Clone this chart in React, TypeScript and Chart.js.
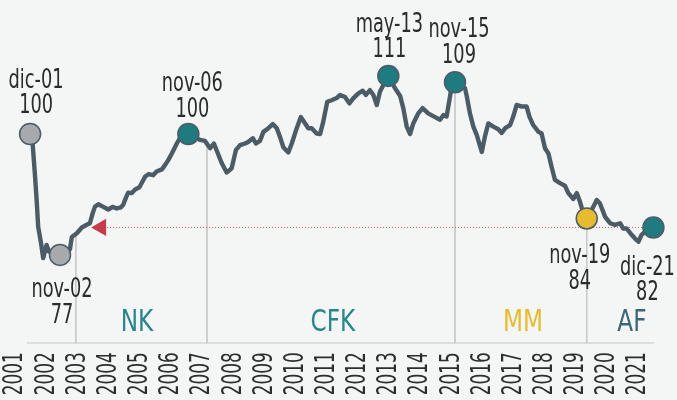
import React, { useEffect, useRef } from 'react';
import { Chart, registerables } from 'chart.js';

Chart.register(...registerables);

// ---------- data ----------
// decimal year of each sampled point of the index line
const LINE_DATES = [
  2001.92, 2002.00, 2002.08, 2002.13, 2002.18, 2002.27, 2002.34, 2002.45, 2002.53, 2002.88,
  2003.10, 2003.20, 2003.26, 2003.42, 2003.58, 2003.74, 2003.84, 2003.93, 2004.00, 2004.11,
  2004.27, 2004.43, 2004.57, 2004.70, 2004.83, 2004.91, 2005.00, 2005.07, 2005.18, 2005.29,
  2005.43, 2005.61, 2005.72, 2005.87, 2005.98, 2006.15, 2006.25, 2006.36, 2006.47, 2006.63,
  2006.73, 2007.00, 2007.37, 2007.53, 2007.70, 2007.82, 2007.93, 2008.07, 2008.23, 2008.39,
  2008.53, 2008.66, 2008.82, 2008.92, 2009.07, 2009.17, 2009.30, 2009.41, 2009.57, 2009.71,
  2009.84, 2009.94, 2010.05, 2010.21, 2010.32, 2010.48, 2010.61, 2010.75, 2010.85, 2010.96,
  2011.12, 2011.23, 2011.33, 2011.46, 2011.60, 2011.76, 2011.87, 2012.03, 2012.17, 2012.30,
  2012.46, 2012.60, 2012.70, 2012.83, 2012.94, 2013.05, 2013.15, 2013.26, 2013.42, 2013.63,
  2013.80, 2013.90, 2014.01, 2014.12, 2014.22, 2014.38, 2014.52, 2014.70, 2014.92, 2015.08,
  2015.19, 2015.29, 2015.40, 2015.45, 2015.56, 2015.88, 2015.94, 2016.04, 2016.15, 2016.26,
  2016.42, 2016.52, 2016.63, 2016.79, 2016.95, 2017.06, 2017.17, 2017.33, 2017.43, 2017.54,
  2017.70, 2017.86, 2017.95, 2018.07, 2018.24, 2018.34, 2018.45, 2018.56, 2018.66, 2018.77,
  2018.93, 2019.09, 2019.20, 2019.36, 2019.47, 2019.57, 2019.63, 2019.79, 2020.00, 2020.11,
  2020.21, 2020.38, 2020.54, 2020.70, 2020.86, 2020.96, 2021.07, 2021.23, 2021.34, 2021.45,
  2021.55, 2021.72, 2021.93,
];
const LINE_VALUES = [
  100, 98.3, 91.9, 87.5, 82.4, 79.4, 76.5, 79.0, 77.7, 77.1,
  77.3, 78.2, 80.5, 81.2, 82.3, 82.8, 83.1, 85.0, 86.2, 86.7,
  86.2, 85.7, 86.2, 85.9, 86.1, 86.6, 88.0, 88.9, 88.8, 89.5,
  89.9, 91.9, 92.4, 92.2, 92.9, 93.3, 94.1, 95.1, 96.3, 98.2,
  99.2, 100, 98.9, 98.7, 97.3, 98.2, 96.6, 94.5, 92.7, 93.5,
  97.0, 97.9, 98.2, 98.5, 99.2, 98.2, 98.7, 100.4, 101.1, 101.9,
  101.1, 99.5, 97.5, 96.5, 98.2, 101.1, 103.2, 102.0, 101.1, 101.1,
  100.1, 100.0, 102.3, 106.1, 106.4, 106.8, 107.4, 107.0, 105.8, 106.8,
  107.7, 108.2, 107.4, 108.3, 107.4, 105.5, 108.0, 109.3, 111, 108.7,
  107.2, 104.9, 101.4, 100.0, 102.0, 103.9, 104.9, 103.9, 103.2, 102.7,
  103.6, 103.3, 107.1, 109.0, 109.8, 108.7, 107.1, 103.9, 101.4, 99.8,
  96.6, 99.5, 102.0, 101.4, 100.9, 100.2, 101.1, 101.7, 103.3, 105.5,
  105.2, 105.2, 103.3, 101.7, 100.4, 100.1, 97.3, 96.3, 93.8, 91.3,
  90.7, 90.2, 88.8, 87.7, 88.8, 87.2, 86.0, 84.0, 86.2, 87.5,
  86.9, 84.3, 83.1, 82.8, 83.1, 82.1, 82.1, 80.9, 80.2, 79.6,
  80.9, 81.8, 82.3,
];

const HIGHLIGHT_LABELS = ['dic-01', 'nov-02', 'nov-06', 'may-13', 'nov-15', 'nov-19', 'dic-21'];
const HIGHLIGHT_INDEX = [0, 9, 41, 88, 104, 137, 152];
const HIGHLIGHT_VALUES = [100, 77, 100, 111, 109, 84, 82];

const YEARS = [
  2001, 2002, 2003, 2004, 2005, 2006, 2007, 2008, 2009, 2010, 2011,
  2012, 2013, 2014, 2015, 2016, 2017, 2018, 2019, 2020, 2021,
];

const PERIOD_LABELS = ['NK', 'CFK', 'MM', 'AF'];
const PERIOD_LABEL_DATES = [2005.35, 2011.64, 2017.74, 2021.24];
const PERIOD_START_DATES = [2003.39, 2007.6, 2015.56, 2019.79];
const PERIOD_START_TOPS = [81.0, 98.0, 109.8, 83.8];

const REFERENCE_VALUE = 82.3;
const REFERENCE_START = 2004.39;
const REFERENCE_END = 2021.93;
const MARKER_DATE = 2004.2;

const AXIS_VALUE = 60.4;
const AXIS_START = 2001.82;
const AXIS_END = 2021.95;

// ---------- styles ----------
const FONT = "'Liberation Sans Narrow', 'DejaVu Sans Condensed', 'Roboto Condensed', Roboto, sans-serif";
const C = {
  bg: '#f4f5f5',
  line: '#4c5c66',
  teal: '#1f7b80',
  grey: '#a8a9ad',
  yellow: '#e7bb2f',
  red: '#c53d4a',
  ref: '#d9505f',
  divider: '#c9c9c9',
  axis: '#d4d4d4',
  text: '#2b2b2b',
};
const HIGHLIGHT_FILL = [C.grey, C.grey, C.teal, C.teal, C.teal, C.yellow, C.teal];
const LABEL_OFFSETS = [
  [6, -46, -21],
  [2, 42, 68],
  [4, -43, -17],
  [1, -44, -19],
  [4, -45, -19],
  [-7, 45, 71],
  [-6, 48, 73],
];
const PERIOD_COLORS = ['#2a868d', '#2a868d', '#e7bb2f', '#3d6679'];
const PERIOD_LABEL_VALUE = 62.7;

function measure(text: string, size: number) {
  const c = document.createElement('canvas').getContext('2d') as CanvasRenderingContext2D;
  c.font = `${size}px ${FONT}`;
  return c.measureText(text).width;
}

function drawText(
  ctx: CanvasRenderingContext2D,
  text: string,
  x: number,
  y: number,
  size: number,
  color: string,
  sx: number,
  rotate = false,
) {
  ctx.save();
  ctx.font = `${size}px ${FONT}`;
  ctx.fillStyle = color;
  ctx.translate(x, y);
  if (rotate) {
    ctx.rotate(-Math.PI / 2);
    ctx.textAlign = 'right';
    ctx.textBaseline = 'middle';
  } else {
    ctx.textAlign = 'center';
    ctx.textBaseline = 'alphabetic';
  }
  ctx.scale(sx, 1);
  ctx.fillText(text, 0, 0);
  ctx.restore();
}

export default function App() {
  const ref = useRef<HTMLCanvasElement | null>(null);

  useEffect(() => {
    if (!ref.current) return;
    const yearSize = 27;
    const yearSx = Math.min(1, 43 / measure('2001', yearSize));
    const annSize = 27;
    const annSx = Math.min(1, 11.3 / measure('0', annSize));
    const periodSize = 31;
    const periodSx = Math.min(1, 20 / measure('M', periodSize));

    const annotations = {
      id: 'annotations',
      afterDatasetsDraw(chart: any) {
        const ctx = chart.ctx as CanvasRenderingContext2D;
        const xs = chart.scales.x;
        const ys = chart.scales.y;
        HIGHLIGHT_INDEX.forEach((idx, i) => {
          const px = xs.getPixelForValue(LINE_DATES[idx]);
          const py = ys.getPixelForValue(LINE_VALUES[idx]);
          const [dx, d1, d2] = LABEL_OFFSETS[i];
          drawText(ctx, HIGHLIGHT_LABELS[i], px + dx, py + d1, annSize, C.text, annSx);
          drawText(ctx, String(HIGHLIGHT_VALUES[i]), px + dx, py + d2, annSize, C.text, annSx);
        });
        PERIOD_LABELS.forEach((lab, i) => {
          const px = xs.getPixelForValue(PERIOD_LABEL_DATES[i]);
          const py = ys.getPixelForValue(PERIOD_LABEL_VALUE);
          drawText(ctx, lab, px, py, periodSize, PERIOD_COLORS[i], periodSx);
        });
        // year labels on the x-axis ticks
        const top = xs.top + 7;
        xs.ticks.forEach((t: any, i: number) => {
          const px = xs.getPixelForValue(t.value);
          drawText(ctx, String(YEARS[i]), px, top, yearSize, '#2d2d2d', yearSx, true);
        });
      },
    };

    const background = {
      id: 'bg',
      beforeDraw(chart: any) {
        const ctx = chart.ctx as CanvasRenderingContext2D;
        ctx.save();
        ctx.fillStyle = C.bg;
        ctx.fillRect(0, 0, chart.width, chart.height);
        ctx.restore();
      },
    };

    const dividerSets = PERIOD_START_DATES.map((d, i) => ({
      data: [
        { x: d, y: PERIOD_START_TOPS[i] },
        { x: d, y: AXIS_VALUE },
      ],
      borderColor: C.divider,
      borderWidth: 1,
      pointRadius: 0,
      clip: false as const,
    }));

    const chart = new Chart(ref.current, {
      type: 'line',
      data: {
        datasets: [
          {
            data: HIGHLIGHT_INDEX.map((i) => ({ x: LINE_DATES[i], y: LINE_VALUES[i] })),
            showLine: false,
            pointRadius: 10.5,
            pointHoverRadius: 10.5,
            pointBackgroundColor: HIGHLIGHT_FILL,
            pointBorderColor: C.line,
            pointBorderWidth: 1.5,
            clip: false,
          },
          {
            data: LINE_DATES.map((d, i) => ({ x: d, y: LINE_VALUES[i] })),
            borderColor: C.line,
            borderWidth: 4.4,
            pointRadius: 0,
            tension: 0,
            borderJoinStyle: 'round',
            borderCapStyle: 'round',
            clip: false,
          },
          {
            data: [{ x: MARKER_DATE, y: REFERENCE_VALUE }],
            showLine: false,
            pointStyle: 'triangle',
            pointRotation: 270,
            pointRadius: 10,
            pointBackgroundColor: C.red,
            pointBorderWidth: 0,
            clip: false,
          },
          {
            data: [
              { x: REFERENCE_START, y: REFERENCE_VALUE },
              { x: REFERENCE_END, y: REFERENCE_VALUE },
            ],
            borderColor: C.ref,
            borderWidth: 1,
            borderDash: [1, 2],
            pointRadius: 0,
            clip: false,
          },
          ...dividerSets,
          {
            data: [
              { x: AXIS_START, y: AXIS_VALUE },
              { x: AXIS_END, y: AXIS_VALUE },
            ],
            borderColor: C.axis,
            borderWidth: 1.5,
            pointRadius: 0,
            clip: false,
          },
        ] as any,
      },
      options: {
        animation: false,
        responsive: false,
        devicePixelRatio: 1,
        layout: { autoPadding: false, padding: { top: 2, left: 0, right: 0, bottom: 0 } },
        plugins: {
          legend: { display: false },
          tooltip: { enabled: false },
        },
        events: [],
        scales: {
          x: {
            type: 'linear',
            min: 2000.954,
            max: 2022.687,
            grid: { display: false, drawTicks: false },
            border: { display: false },
            afterBuildTicks: (scale: any) => {
              scale.ticks = YEARS.map((y) => ({ value: y + 0.45 }));
            },
            afterFit: (scale: any) => {
              scale.height = 54.8;
              scale.paddingLeft = 0;
              scale.paddingRight = 0;
            },
            ticks: {
              display: false,
              autoSkip: false,
            },
          },
          y: {
            type: 'linear',
            display: false,
            min: 60,
            max: 125,
          },
        },
      } as any,
      plugins: [background, annotations],
    });
    return () => chart.destroy();
  }, []);

  return (
    <div style={{ position: 'absolute', left: 0, top: 0, width: 677, height: 400, background: C.bg }}>
      <canvas ref={ref} width={677} height={400} style={{ display: 'block' }} />
    </div>
  );
}
